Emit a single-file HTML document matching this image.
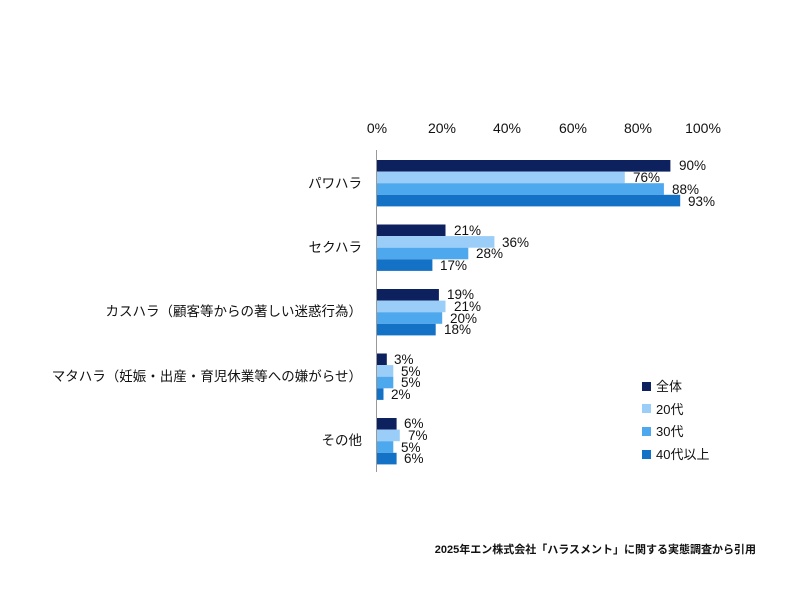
<!DOCTYPE html>
<html><head><meta charset="utf-8"><style>
html,body{margin:0;padding:0;background:#fff;}
svg{display:block;}
text{font-family:"Liberation Sans","Noto Sans CJK JP",sans-serif;fill:#111;}
</style></head><body>
<svg width="800" height="600" viewBox="0 0 800 600" xmlns="http://www.w3.org/2000/svg">
<g font-size="14" text-anchor="middle">
<text x="377" y="133">0%</text>
<text x="442" y="133">20%</text>
<text x="507" y="133">40%</text>
<text x="573" y="133">60%</text>
<text x="638" y="133">80%</text>
<text x="703" y="133">100%</text>
</g>
<g font-size="13.5" text-anchor="end">
<text x="362" y="188">パワハラ</text>
<text x="362" y="252">セクハラ</text>
<text x="362" y="316">カスハラ（顧客等からの著しい迷惑行為）</text>
<text x="362" y="381">マタハラ（妊娠・出産・育児休業等への嫌がらせ）</text>
<text x="362" y="445">その他</text>
</g>
<!-- G1 -->
<rect x="377" y="160" width="293.4" height="11.6" fill="#0c215e"/>
<rect x="377" y="171.6" width="247.8" height="11.6" fill="#9acdf7"/>
<rect x="377" y="183.2" width="286.9" height="11.6" fill="#4ea8ee"/>
<rect x="377" y="194.8" width="303.2" height="11.6" fill="#1472c6"/>
<!-- G2 -->
<rect x="377" y="224.5" width="68.5" height="11.6" fill="#0c215e"/>
<rect x="377" y="236.1" width="117.4" height="11.6" fill="#9acdf7"/>
<rect x="377" y="247.7" width="91.3" height="11.6" fill="#4ea8ee"/>
<rect x="377" y="259.3" width="55.4" height="11.6" fill="#1472c6"/>
<!-- G3 -->
<rect x="377" y="289" width="61.9" height="11.6" fill="#0c215e"/>
<rect x="377" y="300.6" width="68.5" height="11.6" fill="#9acdf7"/>
<rect x="377" y="312.2" width="65.2" height="11.6" fill="#4ea8ee"/>
<rect x="377" y="323.8" width="58.7" height="11.6" fill="#1472c6"/>
<!-- G4 -->
<rect x="377" y="353.5" width="9.8" height="11.6" fill="#0c215e"/>
<rect x="377" y="365.1" width="16.3" height="11.6" fill="#9acdf7"/>
<rect x="377" y="376.7" width="16.3" height="11.6" fill="#4ea8ee"/>
<rect x="377" y="388.3" width="6.5" height="11.6" fill="#1472c6"/>
<!-- G5 -->
<rect x="377" y="418" width="19.6" height="11.6" fill="#0c215e"/>
<rect x="377" y="429.6" width="22.8" height="11.6" fill="#9acdf7"/>
<rect x="377" y="441.2" width="16.3" height="11.6" fill="#4ea8ee"/>
<rect x="377" y="452.8" width="19.6" height="11.6" fill="#1472c6"/>
<line x1="376.5" y1="150" x2="376.5" y2="472" stroke="#999" stroke-width="1"/>
<g font-size="13.5">
<text x="679" y="170">90%</text>
<text x="633" y="182">76%</text>
<text x="672" y="194">88%</text>
<text x="688" y="206">93%</text>
<text x="454" y="235">21%</text>
<text x="502" y="247">36%</text>
<text x="476" y="258">28%</text>
<text x="440" y="270">17%</text>
<text x="447" y="299">19%</text>
<text x="454" y="311">21%</text>
<text x="450" y="323">20%</text>
<text x="444" y="334">18%</text>
<text x="394" y="364">3%</text>
<text x="401" y="376">5%</text>
<text x="401" y="387">5%</text>
<text x="391" y="399">2%</text>
<text x="404" y="428">6%</text>
<text x="408" y="440">7%</text>
<text x="401" y="452">5%</text>
<text x="404" y="463">6%</text>
</g>
<rect x="642" y="382" width="9" height="9" fill="#0c215e"/>
<rect x="642" y="404" width="9" height="9" fill="#9acdf7"/>
<rect x="642" y="427" width="9" height="9" fill="#4ea8ee"/>
<rect x="642" y="450" width="9" height="9" fill="#1472c6"/>
<g font-size="13">
<text x="656" y="391">全体</text>
<text x="656" y="414">20代</text>
<text x="656" y="436">30代</text>
<text x="656" y="459">40代以上</text>
</g>
<text x="756" y="553" font-size="11" font-weight="bold" text-anchor="end">2025年エン株式会社「ハラスメント」に関する実態調査から引用</text>
</svg>
</body></html>
